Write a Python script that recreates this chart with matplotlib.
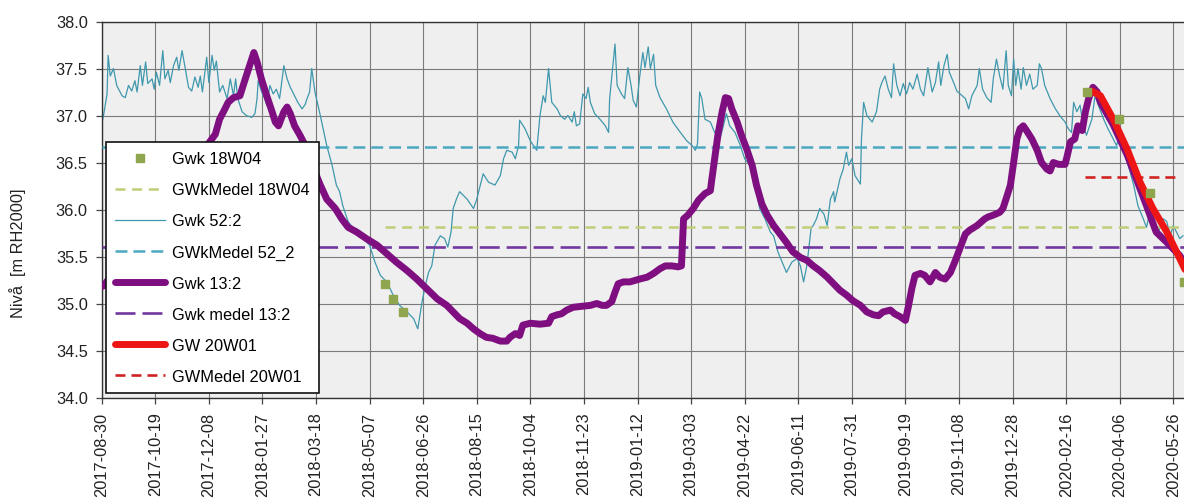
import matplotlib
matplotlib.use("Agg")
import matplotlib.pyplot as plt
import pandas as pd

plt.rcParams["font.family"] = ["Liberation Sans", "DejaVu Sans"]
plt.rcParams["lines.scale_dashes"] = False

START = pd.Timestamp("2017-08-30")

# Gwk 18W04 - manual readings (days after START)
gwk_18w04_days = [264, 272, 281, 919, 949, 978, 1010]
gwk_18w04_level = [35.21, 35.05, 34.91, 37.25, 36.96, 36.18, 35.23]
medel_18w04 = 35.81

# Gwk 52:2 - logger
gwk_52_days = [
    0, 2, 5, 6, 8, 11, 14, 19, 22, 25, 28, 31, 33, 36, 38, 41, 43, 47, 49, 51,
    54, 57, 59, 62, 64, 67, 70, 72, 75, 78, 81, 84, 87, 90, 92, 94, 98, 100, 103, 105,
    107, 110, 113, 117, 120, 123, 125, 127, 131, 135, 140, 143, 145, 146, 149, 152, 154, 157, 160, 163,
    166, 170, 173, 176, 180, 183, 187, 190, 191, 194, 196, 199, 204, 210, 215, 219, 222, 225, 230, 235,
    239, 244, 250, 255, 260, 266, 272, 278, 285, 291, 295, 299, 302, 305, 308, 311, 316, 320, 323, 326,
    328, 331, 334, 341, 347, 350, 356, 361, 367, 372, 375, 378, 383, 386, 389, 390, 395, 400, 403, 406,
    409, 412, 414, 417, 420, 425, 428, 432, 435, 439, 441, 443, 446, 449, 452, 454, 456, 460, 465, 470,
    473, 474, 476, 479, 481, 485, 488, 491, 494, 496, 499, 502, 505, 507, 510, 512, 515, 517, 521, 527,
    533, 540, 546, 551, 554, 556, 558, 560, 563, 568, 572, 577, 583, 586, 591, 596, 600, 605, 610, 614,
    619, 624, 627, 631, 639, 644, 649, 652, 655, 658, 662, 664, 667, 670, 674, 677, 680, 683, 684, 689,
    692, 695, 697, 700, 703, 708, 709, 711, 714, 719, 723, 726, 728, 731, 734, 737, 739, 742, 745, 748,
    751, 754, 757, 761, 764, 767, 771, 775, 778, 781, 783, 786, 789, 791, 795, 798, 803, 806, 809, 812,
    817, 819, 822, 826, 830, 832, 835, 838, 841, 844, 846, 849, 851, 853, 855, 858, 860, 863, 866, 869,
    873, 875, 877, 880, 885, 890, 894, 899, 902, 905, 907, 910, 913, 916, 919, 921, 924, 927, 930, 935,
    939, 944, 947, 950, 953, 958, 963, 967, 972, 975, 978, 982, 986, 991, 994, 997, 1000, 1003, 1006, 1009,
]
gwk_52_level = [
    36.91, 37.02, 37.23, 37.64, 37.42, 37.50, 37.32, 37.21, 37.19, 37.32,
    37.26, 37.37, 37.25, 37.53, 37.32, 37.57, 37.34, 37.39, 37.28, 37.46,
    37.32, 37.69, 37.39, 37.48, 37.35, 37.53, 37.62, 37.48, 37.69, 37.50,
    37.30, 37.26, 37.41, 37.30, 37.42, 37.25, 37.62, 37.35, 37.64, 37.48,
    37.58, 37.25, 37.32, 37.18, 37.39, 37.21, 37.39, 37.18, 37.04, 37.00,
    36.98, 37.02, 37.18, 37.37, 37.26, 37.18, 37.11, 37.32, 37.23, 37.28,
    37.18, 37.53, 37.39, 37.30, 37.21, 37.14, 37.07, 37.12, 37.16, 37.25,
    37.50, 37.25, 37.00, 36.68, 36.47, 36.26, 36.19, 36.04, 35.87, 35.80,
    35.72, 35.69, 35.62, 35.44, 35.30, 35.23, 35.09, 34.98, 34.91, 34.84,
    34.73, 35.02, 35.19, 35.33, 35.40, 35.62, 35.72, 35.69, 35.60, 35.76,
    36.01, 36.11, 36.19, 36.11, 36.01, 36.11, 36.38, 36.29, 36.26, 36.36,
    36.54, 36.63, 36.61, 36.54, 36.68, 36.95, 36.86, 36.73, 36.68, 36.63,
    37.00, 37.21, 37.14, 37.50, 37.14, 37.07, 37.00, 36.96, 37.00, 36.93,
    37.04, 36.89, 36.91, 37.23, 37.18, 37.30, 37.14, 37.02, 36.96, 36.89,
    36.82, 37.18, 37.41, 37.76, 37.32, 37.23, 37.18, 37.51, 37.32, 37.16,
    37.09, 37.41, 37.67, 37.51, 37.73, 37.50, 37.65, 37.32, 37.19, 37.07,
    36.93, 36.82, 36.73, 36.68, 36.63, 36.70, 37.25, 37.18, 36.96, 36.93,
    36.82, 36.75, 37.02, 36.89, 36.82, 36.68, 36.54, 36.47, 36.26, 36.01,
    35.90, 35.76, 35.72, 35.55, 35.33, 35.44, 35.48, 35.40, 35.23, 35.40,
    35.80, 35.83, 35.90, 36.01, 35.95, 35.83, 36.11, 36.19, 36.08, 36.33,
    36.43, 36.61, 36.47, 36.54, 36.36, 36.27, 36.75, 37.14, 37.00, 36.93,
    37.04, 37.28, 37.35, 37.42, 37.28, 37.19, 37.55, 37.32, 37.21, 37.34,
    37.23, 37.35, 37.28, 37.44, 37.28, 37.21, 37.51, 37.25, 37.35, 37.57,
    37.32, 37.53, 37.65, 37.46, 37.35, 37.26, 37.21, 37.18, 37.07, 37.21,
    37.32, 37.50, 37.28, 37.19, 37.14, 37.39, 37.60, 37.42, 37.28, 37.69,
    37.32, 37.21, 37.60, 37.32, 37.50, 37.28, 37.51, 37.32, 37.44, 37.28,
    37.32, 37.55, 37.50, 37.32, 37.18, 37.07, 37.00, 36.93, 36.86, 36.82,
    37.14, 37.04, 37.11, 36.89, 36.79, 36.86, 36.96, 37.21, 37.11, 36.96,
    36.86, 36.75, 36.68, 36.79, 36.64, 36.47, 36.26, 36.04, 35.90, 35.81,
    35.97, 35.83, 35.76, 35.90, 35.87, 35.72, 35.83, 35.76, 35.69, 35.72,
]
medel_52 = 36.67

# Gwk 13:2 - logger
gwk_13_days = [
    0, 2, 106, 110, 115, 118, 123, 129, 134, 138, 142, 145, 149, 154, 159, 162, 165, 170, 173, 176,
    180, 185, 190, 194, 199, 204, 210, 218, 224, 230, 238, 247, 257, 266, 275, 285, 294, 303, 313, 322,
    334, 341, 347, 353, 359, 365, 372, 378, 381, 386, 390, 393, 400, 409, 417, 420, 425, 429, 434, 440,
    448, 456, 462, 467, 471, 476, 479, 482, 487, 493, 499, 502, 509, 515, 521, 526, 532, 538, 541, 543,
    547, 552, 557, 563, 568, 569, 572, 575, 579, 582, 585, 588, 593, 597, 602, 607, 611, 616, 621, 627,
    633, 639, 645, 652, 658, 664, 670, 677, 683, 689, 695, 701, 708, 714, 720, 725, 729, 736, 740, 745,
    750, 753, 756, 759, 764, 768, 773, 778, 782, 787, 792, 796, 799, 803, 806, 810, 817, 821, 824, 827,
    832, 838, 841, 845, 848, 851, 854, 857, 860, 863, 868, 873, 877, 882, 885, 888, 893, 899, 901, 904,
    908, 911, 915, 918, 921, 925, 929, 932, 944, 957, 975, 984, 994, 1006, 1011,
]
gwk_13_level = [
    35.18, 35.19, 36.80, 36.96, 37.07, 37.14, 37.19, 37.21, 37.39, 37.53,
    37.67, 37.57, 37.39, 37.21, 37.04, 36.93, 36.89, 37.04, 37.09, 37.02,
    36.89, 36.79, 36.68, 36.54, 36.40, 36.26, 36.11, 36.01, 35.90, 35.81,
    35.76, 35.69, 35.62, 35.53, 35.44, 35.35, 35.26, 35.16, 35.05, 34.98,
    34.84, 34.79, 34.73, 34.68, 34.64, 34.63, 34.60, 34.60, 34.64, 34.68,
    34.66, 34.77, 34.79, 34.78, 34.79, 34.86, 34.88, 34.89, 34.93, 34.96,
    34.97, 34.98, 35.00, 34.98, 34.98, 35.02, 35.12, 35.21, 35.23, 35.23,
    35.25, 35.26, 35.28, 35.32, 35.37, 35.40, 35.40, 35.39, 35.40, 35.90,
    35.94, 36.01, 36.10, 36.17, 36.20, 36.29, 36.54, 36.79, 37.04, 37.19,
    37.18, 37.07, 36.93, 36.79, 36.64, 36.47, 36.26, 36.06, 35.94, 35.83,
    35.74, 35.65, 35.55, 35.49, 35.46, 35.40, 35.35, 35.28, 35.21, 35.14,
    35.09, 35.03, 34.98, 34.91, 34.88, 34.87, 34.91, 34.93, 34.89, 34.86,
    34.82, 34.98, 35.16, 35.30, 35.32, 35.30, 35.23, 35.33, 35.28, 35.26,
    35.33, 35.44, 35.53, 35.65, 35.74, 35.78, 35.83, 35.87, 35.90, 35.92,
    35.94, 35.97, 36.01, 36.15, 36.26, 36.50, 36.75, 36.86, 36.89, 36.84,
    36.75, 36.63, 36.50, 36.43, 36.41, 36.50, 36.48, 36.48, 36.57, 36.72,
    36.75, 36.89, 36.84, 37.04, 37.18, 37.30, 37.25, 37.14, 36.90, 36.58,
    36.04, 35.76, 35.65, 35.51, 35.42,
]
medel_13 = 35.60

# GW 20W01
gw_20w01_days = [924, 932, 944, 957, 969, 981, 994, 1003, 1011]
gw_20w01_level = [37.26, 37.21, 36.96, 36.64, 36.29, 36.01, 35.76, 35.55, 35.36]
medel_20w01 = 36.35
medel_20w01_days = [918, 1006]

LAST_DAY = 1030


def to_dates(days):
    return START + pd.to_timedelta(days, unit="D")


fig = plt.figure(figsize=(11.84, 5.02), dpi=100)
# 1000 days = 1071.6 px, the plot runs on past the right edge of the figure
ax = fig.add_axes([101.7 / 1184, 103.5 / 502, LAST_DAY * 1.0716 / 1184, 376 / 502])
ax.set_facecolor("#efefef")

full_span = to_dates([0, LAST_DAY])

ax.plot(to_dates(gwk_18w04_days), gwk_18w04_level, linestyle="none", marker="s",
        markersize=6, color="#8fa64e", label="Gwk 18W04", zorder=6)
ax.plot(to_dates([gwk_18w04_days[0], LAST_DAY]), [medel_18w04] * 2, color="#c2cd78",
        lw=1.8, dashes=(7.2, 4.8), label="GWkMedel 18W04", zorder=3)
ax.plot(to_dates(gwk_52_days), gwk_52_level, color="#3f98ad", lw=0.9,
        label="Gwk 52:2", zorder=2)
ax.plot(full_span, [medel_52] * 2, color="#4aa8c0", lw=1.8, dashes=(8.6, 4.3),
        label="GWkMedel 52_2", zorder=3)
ax.plot(to_dates(gwk_13_days), gwk_13_level, color="#7f0f80", lw=5.0,
        solid_capstyle="round", solid_joinstyle="round", label="Gwk 13:2", zorder=4)
ax.plot(full_span, [medel_13] * 2, color="#7238a0", lw=1.9, dashes=(14.4, 5.0),
        label="Gwk medel 13:2", zorder=3)
ax.plot(to_dates(gw_20w01_days), gw_20w01_level, color="#ee1515", lw=5.0,
        solid_capstyle="round", label="GW 20W01", zorder=5)
ax.plot(to_dates(medel_20w01_days), [medel_20w01] * 2, color="#d02424", lw=1.9,
        dashes=(7.2, 4.3), label="GWMedel 20W01", zorder=3)

# axes
ax.set_xlim(full_span[0], full_span[1])
ax.set_ylim(34.0, 38.0)
ax.set_yticks([34.0 + 0.5 * i for i in range(9)])
ax.set_yticklabels([f"{34.0 + 0.5 * i:.1f}" for i in range(9)])
tick_dates = pd.date_range(START, periods=21, freq="50D")
ax.set_xticks(tick_dates)
ax.set_xticklabels([d.strftime("%Y-%m-%d") for d in tick_dates], rotation=90)
ax.tick_params(axis="both", labelsize=11.8, labelcolor="#222222", length=4,
               width=0.9, color="#444444", pad=6)
ax.grid(True, color="#7a7a7a", lw=0.8)
ax.set_axisbelow(True)
for side in ["top", "left", "bottom"]:
    ax.spines[side].set_color("#333333")
    ax.spines[side].set_linewidth(1.0)
ax.spines["right"].set_visible(False)

fig.text(18 / 1184, 1 - 253 / 502, "Nivå  [m RH2000]", rotation=90,
         ha="center", va="center", fontsize=11.8, color="#222222")

leg = ax.legend(loc="upper left", bbox_to_anchor=(106 / 1184, 1 - 143.3 / 502),
                bbox_transform=fig.transFigure, borderaxespad=0, fontsize=11.8,
                handlelength=3.05, handletextpad=0.45, labelspacing=0.98,
                borderpad=0.55, numpoints=1, fancybox=False, framealpha=1)
leg.get_frame().set_edgecolor("#111111")
leg.get_frame().set_linewidth(1.2)

fig.savefig("out.png", dpi=100)
